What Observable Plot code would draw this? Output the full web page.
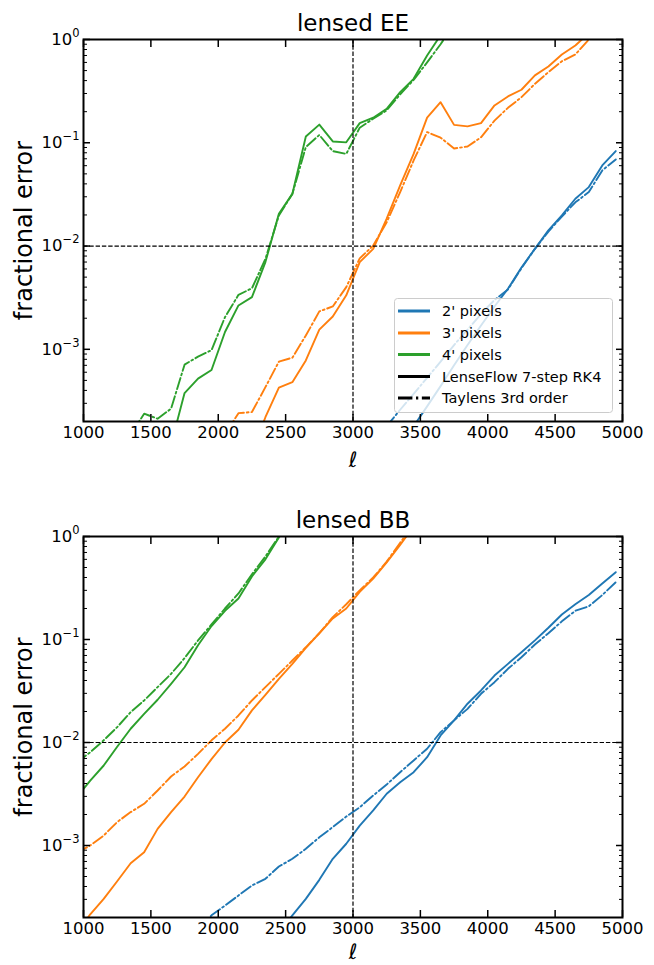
<!DOCTYPE html>
<html>
<head>
<meta charset="utf-8">
<script src="https://cdn.jsdelivr.net/npm/d3@7"></script>
<script src="https://cdn.jsdelivr.net/npm/@observablehq/plot@0.6"></script>
<style>
  html, body { margin: 0; padding: 0; background: #fff; }
  #wrap { position: relative; width: 654px; height: 965px; overflow: hidden; font-family: "DejaVu Sans", sans-serif; }
  #wrap svg { display: block; }
  #legend { position: absolute; left: 394px; top: 298px; }
</style>
</head>
<body>
<div id="wrap"></div>
<script>
const _ = null;
// multipole bins (ℓ)
const ell = [950,1050,1150,1250,1350,1450,1550,1650,1750,1850,1950,2050,2150,2250,2350,2450,2550,2650,2750,2850,2950,3050,3150,3250,3350,3450,3550,3650,3750,3850,3950,4050,4150,4250,4350,4450,4550,4650,4750,4850,4950];

const pixelSizes = ["2' pixels", "3' pixels", "4' pixels"];
const pixelColors = ["#1f77b4", "#ff7f0e", "#2ca02c"];
const methods = ["LenseFlow 7-step RK4", "Taylens 3rd order"];

// ---- lensed EE fractional error ----
const EE_2_lenseflow = [_,_,_,_,_,_,_,_,_,_,_,_,_,_,_,_,_,_,_,_,_,_,_,_,
  1.2e-4,1.8e-4,2.8e-4,4.4e-4,7.0e-4,1.1e-3,1.7e-3,2.6e-3,3.86e-3,6.2e-3,9.4e-3,0.0142,0.0198,0.0287,0.0372,0.0603,0.083];
const EE_2_taylens = [_,_,_,_,_,_,_,_,_,_,_,_,_,_,_,_,_,_,_,_,_,_,_,
  1.8e-4,2.6e-4,3.7e-4,5.3e-4,7.6e-4,1.1e-3,1.55e-3,2.2e-3,3.0e-3,3.8e-3,6.1e-3,9.4e-3,0.0138,0.0193,0.0265,0.0333,0.054,0.069];
const EE_3_lenseflow = [_,_,_,_,_,_,_,_,_,_,_,_,_,
  1.0e-4,2.2e-4,4.25e-4,4.8e-4,7.8e-4,1.55e-3,2.08e-3,3.33e-3,6.98e-3,9.4e-3,0.0184,0.0386,0.078,0.175,0.247,0.149,0.144,0.155,0.23,0.281,0.326,0.449,0.548,0.716,0.875,1.15,1.5,_];
const EE_3_taylens = [_,_,_,_,_,_,_,_,_,_,_,
  1.5e-4,2.41e-4,2.47e-4,4.3e-4,7.6e-4,8.3e-4,1.36e-3,2.33e-3,2.6e-3,4.0e-3,7.6e-3,0.0101,0.017,0.0333,0.0674,0.127,0.112,0.088,0.092,0.113,0.164,0.218,0.276,0.372,0.483,0.616,0.716,1.0,1.4,_];
const EE_4_lenseflow = [_,_,_,_,_,_,_,
  1.2e-4,3.77e-4,5.2e-4,6.3e-4,1.47e-3,2.66e-3,3.2e-3,7.0e-3,0.0205,0.032,0.115,0.150,0.103,0.101,0.155,0.175,0.213,0.309,0.416,0.70,1.1,1.7,
  _,_,_,_,_,_,_,_,_,_,_,_];
const EE_4_taylens = [_,_,_,_,
  1.5e-4,2.38e-4,2.13e-4,2.66e-4,7.1e-4,8.5e-4,9.8e-4,2.05e-3,3.37e-3,3.9e-3,7.5e-3,0.0198,0.032,0.091,0.119,0.083,0.078,0.14,0.171,0.206,0.294,0.407,0.60,0.9,1.4,
  _,_,_,_,_,_,_,_,_,_,_,_];

// ---- lensed BB fractional error ----
const BB_2_lenseflow = [_,_,_,_,_,_,_,_,_,_,_,_,_,_,_,
  1.4e-4,2.1e-4,3.03e-4,4.64e-4,7.43e-4,1.04e-3,1.56e-3,2.19e-3,3.18e-3,4.12e-3,5.15e-3,7.2e-3,0.0117,0.0164,0.0238,0.032,0.0447,0.058,0.0753,0.098,0.13,0.175,0.22,0.27,0.35,0.45];
const BB_2_taylens = [_,_,_,_,_,_,_,_,_,
  1.5e-4,2.1e-4,2.61e-4,3.27e-4,4.09e-4,4.75e-4,6.25e-4,7.43e-4,9.3e-4,1.2e-3,1.51e-3,1.91e-3,2.35e-3,3.06e-3,3.91e-3,5.15e-3,6.7e-3,8.7e-3,0.0126,0.0164,0.0212,0.0297,0.0385,0.0519,0.0673,0.0894,0.115,0.15,0.19,0.21,0.27,0.36];
const BB_3_lenseflow = [
  1.4e-4,2.15e-4,3.03e-4,4.5e-4,6.73e-4,8.6e-4,1.45e-3,2.11e-3,2.99e-3,4.6e-3,6.9e-3,0.01,0.0133,0.0205,0.029,0.0415,0.058,0.083,0.115,0.16,0.2,0.29,0.39,0.56,0.83,1.25,
  _,_,_,_,_,_,_,_,_,_,_,_,_,_,_];
const BB_3_taylens = [
  8.5e-4,1.0e-3,1.25e-3,1.69e-3,2.11e-3,2.54e-3,3.42e-3,4.68e-3,5.85e-3,7.76e-3,0.0105,0.0136,0.0183,0.0256,0.0345,0.0464,0.0625,0.084,0.115,0.165,0.22,0.3,0.4,0.57,0.87,1.3,
  _,_,_,_,_,_,_,_,_,_,_,_,_,_,_];
const BB_4_lenseflow = [
  2.95e-3,4.27e-3,5.98e-3,9.1e-3,0.0136,0.019,0.026,0.0371,0.0538,0.088,0.135,0.19,0.25,0.41,0.6,0.98,1.5,
  _,_,_,_,_,_,_,_,_,_,_,_,_,_,_,_,_,_,_,_,_,_,_,_];
const BB_4_taylens = [
  6.4e-3,8.05e-3,0.0105,0.0141,0.0197,0.0256,0.0345,0.0464,0.066,0.098,0.14,0.2,0.28,0.43,0.64,1.0,1.5,
  _,_,_,_,_,_,_,_,_,_,_,_,_,_,_,_,_,_,_,_,_,_,_,_];

// ticks and reference lines
const xTicks = [1000,1500,2000,2500,3000,3500,4000,4500,5000];
const yMajor = [1e-3,1e-2,1e-1,1];
const yMinor = [2e-4,3e-4,4e-4,5e-4,6e-4,7e-4,8e-4,9e-4,
                2e-3,3e-3,4e-3,5e-3,6e-3,7e-3,8e-3,9e-3,
                2e-2,3e-2,4e-2,5e-2,6e-2,7e-2,8e-2,9e-2,
                2e-1,3e-1,4e-1,5e-1,6e-1,7e-1,8e-1,9e-1];
const refError = 0.01;
const refEll = 3000;
const titles = ["lensed EE", "lensed BB"];
const yLabel = "fractional error";
const xLabel = "ℓ";

function toRows(seriesList) {
  const rows = [];
  for (const s of seriesList) {
    s.vals.forEach((v, i) => { if (v != null) rows.push({ell: ell[i], v, px: s.px, method: s.method}); });
  }
  return rows;
}

const eeRows = toRows([
  {px: pixelSizes[0], method: methods[0], vals: EE_2_lenseflow},
  {px: pixelSizes[0], method: methods[1], vals: EE_2_taylens},
  {px: pixelSizes[1], method: methods[0], vals: EE_3_lenseflow},
  {px: pixelSizes[1], method: methods[1], vals: EE_3_taylens},
  {px: pixelSizes[2], method: methods[0], vals: EE_4_lenseflow},
  {px: pixelSizes[2], method: methods[1], vals: EE_4_taylens}
]);
const bbRows = toRows([
  {px: pixelSizes[0], method: methods[0], vals: BB_2_lenseflow},
  {px: pixelSizes[0], method: methods[1], vals: BB_2_taylens},
  {px: pixelSizes[1], method: methods[0], vals: BB_3_lenseflow},
  {px: pixelSizes[1], method: methods[1], vals: BB_3_taylens},
  {px: pixelSizes[2], method: methods[0], vals: BB_4_lenseflow},
  {px: pixelSizes[2], method: methods[1], vals: BB_4_taylens}
]);

const DASHDOT = "11.5,2.9,1.8,2.9";

function panel(title, rows, height, marginTop, marginBottom, xLabelDy) {
  const svg = Plot.plot({
    width: 654, height, marginLeft: 83, marginRight: 32, marginTop, marginBottom,
    style: {fontFamily: "'DejaVu Sans', sans-serif", fontSize: "16.5px", color: "black", background: "white", overflow: "visible"},
    x: {domain: [1000, 5000]},
    y: {type: "log", domain: [2e-4, 1]},
    color: {domain: pixelSizes, range: pixelColors},
    marks: [
      Plot.line(rows.filter(d => d.method === methods[0]), {x: "ell", y: "v", z: "px", stroke: "px", strokeWidth: 1.9, clip: true}),
      Plot.line(rows.filter(d => d.method === methods[1]), {x: "ell", y: "v", z: "px", stroke: "px", strokeWidth: 1.9, strokeDasharray: DASHDOT, clip: true}),
      Plot.ruleY([refError], {stroke: "black", strokeWidth: 1.2, strokeDasharray: "4.4,1.9"}),
      Plot.ruleX([refEll], {stroke: "black", strokeWidth: 1.2, strokeDasharray: "4.4,1.9"}),
      Plot.axisX({anchor: "bottom", ticks: xTicks, tickSize: -7, tickPadding: 12, strokeWidth: 1.5, tickFormat: d => String(d), label: null}),
      Plot.axisX({anchor: "top", ticks: xTicks, tickSize: -7, strokeWidth: 1.5, fill: "none", label: null}),
      Plot.axisY({anchor: "left", ticks: yMajor, tickSize: -7, tickPadding: 11, strokeWidth: 1.5, tickFormat: d => "10^" + Math.round(Math.log10(d)), label: null}),
      Plot.axisY({anchor: "right", ticks: yMajor, tickSize: -7, strokeWidth: 1.5, fill: "none", label: null}),
      Plot.axisY({anchor: "left", ticks: yMinor, tickSize: -4, strokeWidth: 1, fill: "none", label: null}),
      Plot.axisY({anchor: "right", ticks: yMinor, tickSize: -4, strokeWidth: 1, fill: "none", label: null}),
      Plot.frame({stroke: "black", strokeWidth: 2}),
      Plot.text([title], {frameAnchor: "top", lineAnchor: "middle", textAnchor: "middle", dy: -16, fontSize: 23, fill: "black"}),
      Plot.text([yLabel], {frameAnchor: "left", lineAnchor: "middle", textAnchor: "middle", rotate: -90, dx: -59, fontSize: 24, fill: "black"}),
      Plot.text([xLabel], {frameAnchor: "bottom", lineAnchor: "middle", textAnchor: "middle", dy: xLabelDy, fontSize: 21, fontStyle: "italic", fill: "black"})
    ]
  });
  // superscript exponents on y tick labels
  d3.select(svg).selectAll('g[aria-label="y-axis tick label"] text').each(function() {
    const t = this.textContent;
    const parts = t.split("^");
    if (parts.length !== 2) return;
    const sel = d3.select(this);
    sel.text(null);
    sel.append("tspan").text(parts[0]);
    sel.append("tspan").attr("dy", -8).attr("font-size", "11.5px").text(parts[1].replace("-", "\u2212"));
  });
  return svg;
}

const wrap = document.getElementById("wrap");
wrap.appendChild(panel(titles[0], eeRows, 480, 39, 59, 39));
wrap.appendChild(panel(titles[1], bbRows, 485, 56, 48, 35));

// legend (inside the EE panel, lower right)
const legendItems = [
  {label: pixelSizes[0], color: pixelColors[0], dash: null},
  {label: pixelSizes[1], color: pixelColors[1], dash: null},
  {label: pixelSizes[2], color: pixelColors[2], dash: null},
  {label: methods[0], color: "black", dash: null},
  {label: methods[1], color: "black", dash: "14.4,3.6,2.25,3.6"}
];
const leg = d3.select(wrap).append("svg").attr("id", "legend").attr("width", 220).attr("height", 116);
leg.append("rect").attr("x", 0.5).attr("y", 0.5).attr("width", 218).attr("height", 114).attr("rx", 3)
  .attr("fill", "white").attr("fill-opacity", 0.8).attr("stroke", "#cccccc").attr("stroke-width", 1);
const rowY = [13, 35, 56.5, 78.5, 100];
legendItems.forEach((it, i) => {
  const ln = leg.append("line").attr("x1", 4).attr("x2", 36).attr("y1", rowY[i]).attr("y2", rowY[i])
    .attr("stroke", it.color).attr("stroke-width", 3);
  if (it.dash) ln.attr("stroke-dasharray", it.dash);
  leg.append("text").attr("x", 48).attr("y", rowY[i]).attr("dy", "0.35em")
    .attr("font-family", "'DejaVu Sans', sans-serif").attr("font-size", "14.5px").attr("fill", "black").text(it.label);
});
</script>
</body>
</html>
